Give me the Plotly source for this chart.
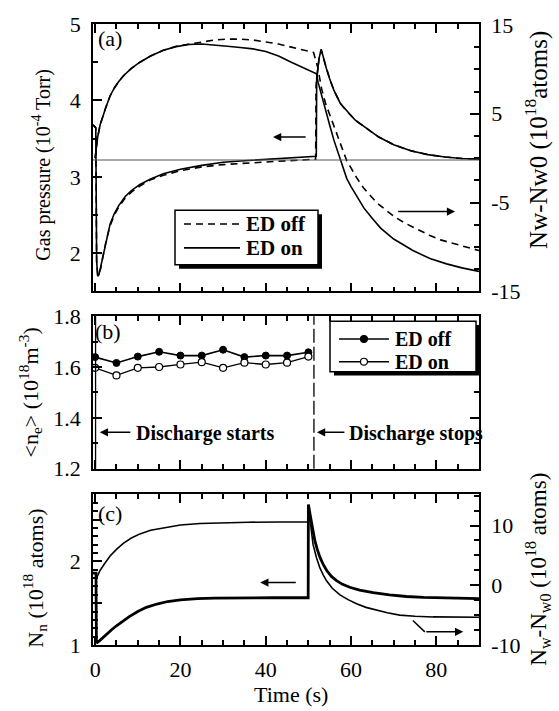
import plotly.graph_objects as go

# ---------------- data: panel (a) ----------------
t_p_on = [-0.5, 0.15, 0.35, 0.6, 0.9, 1.3, 1.8, 2.5, 3.5, 4.5, 5.5, 7, 8.5, 10.5, 13, 16, 20, 25, 30, 35, 40, 45,
          51.85, 51.95, 52.5, 53.0, 53.5, 54.2, 55, 56, 57.5, 59, 61, 63.5, 66.5, 70, 74, 78, 82, 86, 90]
p_on = [3.68, 3.64, 1.90, 1.70, 1.72, 1.82, 1.97, 2.16, 2.38, 2.52, 2.62, 2.74, 2.82, 2.90, 2.97, 3.04, 3.10, 3.15, 3.19,
        3.21, 3.23, 3.25, 3.27, 4.30, 4.55, 4.67, 4.56, 4.42, 4.28, 4.13, 3.96, 3.86, 3.74, 3.64, 3.52, 3.42, 3.34, 3.29,
        3.26, 3.24, 3.23]
t_p_off = [-0.5, 0.15, 0.35, 0.6, 0.9, 1.3, 1.8, 2.5, 3.5, 4.5, 5.5, 7, 8.5, 10.5, 13, 16, 20, 25, 30, 35, 40, 45,
           51.7, 51.8, 52.5, 53.0, 53.5, 54.2, 55, 56, 57.5, 59, 61, 63.5, 66.5, 70, 74, 78, 82, 86, 90]
p_off = [3.68, 3.64, 1.90, 1.71, 1.73, 1.80, 1.95, 2.14, 2.36, 2.50, 2.60, 2.72, 2.80, 2.88, 2.96, 3.02, 3.08, 3.13, 3.16,
         3.18, 3.20, 3.21, 3.23, 4.20, 4.55, 4.66, 4.56, 4.42, 4.28, 4.13, 3.96, 3.86, 3.74, 3.64, 3.52, 3.42, 3.34,
         3.29, 3.26, 3.24, 3.23]
p_ref = 3.22  # baseline pressure (Nw-Nw0 = 0 line)

t_nw_on = [0.0, 0.25, 0.6, 1.2, 1.8, 2.5, 3.5, 4.5, 5.5, 6.7, 8.5, 10.5, 13, 16, 19, 22, 25, 28, 31, 34, 37, 40, 43,
           46, 49, 51.9, 52.3, 53, 54, 55, 56, 57, 58.2, 59, 60, 61.5, 63, 65, 67, 70, 74.5, 78.5, 82.4, 86, 90]
nw_on = [0.0, 1.2, 2.4, 3.8, 4.8, 5.7, 7.0, 7.9, 8.6, 9.3, 10.1, 10.8, 11.5, 12.15, 12.55, 12.8, 12.85, 12.75, 12.6,
         12.45, 12.3, 12.0, 11.5, 10.8, 10.1, 9.5, 8.5, 7.2, 5.5, 3.7, 2.0, 0.5, -1.3, -2.3, -3.2, -4.4, -5.6, -6.8,
         -7.9, -9.1, -10.4, -11.3, -11.9, -12.35, -12.75]
t_nw_off = [0.0, 0.25, 0.6, 1.2, 1.8, 2.5, 3.5, 4.5, 5.5, 6.7, 8.5, 10.5, 13, 16, 19, 22, 25, 28, 31, 34, 37, 40, 43,
            46, 49, 51.2, 52.2, 53.1, 54, 55, 56, 57, 58.1, 59, 60, 61.3, 63, 64.4, 66, 68.3, 70.5, 73, 75.5, 78.5,
            81, 84, 87, 90]
nw_off = [0.0, 1.2, 2.4, 3.8, 4.8, 5.7, 7.0, 7.9, 8.6, 9.3, 10.1, 10.8, 11.5, 12.15, 12.6, 12.85, 13.1, 13.3, 13.4,
          13.4, 13.3, 13.1, 12.85, 12.5, 12.2, 11.9, 10.2, 7.8, 6.2, 4.9, 3.6, 2.4, 0.8, -0.3, -1.1, -2.2, -3.4, -4.1,
          -5.0, -5.9, -6.7, -7.4, -8.0, -8.7, -9.2, -9.6, -10.0, -10.4]

# ---------------- data: panel (b) ----------------
t_ne = [0, 5, 10, 15, 20, 25, 30, 35, 40, 45, 50]
ne_off = [1.639, 1.616, 1.641, 1.660, 1.645, 1.645, 1.668, 1.639, 1.645, 1.645, 1.658]
ne_on = [1.597, 1.567, 1.597, 1.600, 1.610, 1.619, 1.597, 1.617, 1.610, 1.617, 1.641]
t_start = 0.1
t_stop = 51.3

# ---------------- data: panel (c) ----------------
t_nn = [-0.5, 0.2, 0.3, 0.5, 1.0, 1.8, 2.7, 3.8, 5.0, 6.5, 8.0, 10.0, 12.0, 14.5, 17.0, 20.0, 24.0, 28.0, 35.0, 42.0,
        49.95, 50.0, 50.4, 50.9, 51.5, 52.1, 52.7, 53.5, 54.3, 55.4, 56.6, 58, 59.7, 62, 65.2, 69, 73, 77, 80.8, 85, 90]
nn = [1.86, 1.86, 1.04, 1.03, 1.05, 1.09, 1.13, 1.18, 1.23, 1.29, 1.34, 1.40, 1.45, 1.49, 1.52, 1.54, 1.555, 1.56,
      1.565, 1.565, 1.565, 2.68, 2.56, 2.40, 2.25, 2.14, 2.05, 1.96, 1.89, 1.82, 1.77, 1.725, 1.69, 1.655, 1.625, 1.60,
      1.58, 1.57, 1.565, 1.56, 1.555]
t_nwc = [0.2, 1.1, 2.2, 3.5, 5.0, 6.6, 8.5, 10.5, 13, 16.8, 20, 24.6, 30, 36, 43, 49.95, 50.0, 50.4, 51.1, 51.9, 52.7,
         53.5, 54.3, 55.6, 57.4, 59.3, 61.3, 63.5, 66, 68.5, 71.4, 75, 79.2, 84, 90]
nwc = [1.0, 2.4, 3.6, 4.9, 6.0, 7.0, 7.9, 8.6, 9.2, 9.75, 10.1, 10.35, 10.5, 10.55, 10.6, 10.6, 13.2, 10.7, 6.8, 4.6,
       2.9, 1.7, 0.7, -0.5, -1.6, -2.4, -3.1, -3.7, -4.2, -4.6, -5.0, -5.2, -5.3, -5.35, -5.35]

# ---------------- layout helpers ----------------
W, H = 559, 711
ML, MR, MT, MB = 93, 80, 18, 66
PW, PH = W - ML - MR, H - MT - MB


def X(px):
    return (px - ML) / PW


def Y(py):
    return (H - MB - py) / PH


SERIF = "Liberation Serif"
TICKFONT = dict(family=SERIF, size=22, color="black")
LW = 1.6
TW = 1.6

fig = go.Figure()

# panel (a)
fig.add_trace(go.Scatter(x=t_p_off, y=p_off, mode="lines", line=dict(color="black", width=LW, dash="7px,5px"),
                         xaxis="x", yaxis="y", showlegend=False))
fig.add_trace(go.Scatter(x=t_p_on, y=p_on, mode="lines", line=dict(color="black", width=LW),
                         xaxis="x", yaxis="y", showlegend=False))
fig.add_trace(go.Scatter(x=t_nw_off, y=nw_off, mode="lines", line=dict(color="black", width=LW, dash="7px,5px"),
                         xaxis="x", yaxis="y2", showlegend=False))
fig.add_trace(go.Scatter(x=t_nw_on, y=nw_on, mode="lines", line=dict(color="black", width=LW),
                         xaxis="x", yaxis="y2", showlegend=False))

# panel (b)
fig.add_trace(go.Scatter(x=t_ne, y=ne_off, mode="lines+markers", line=dict(color="black", width=1.6),
                         marker=dict(symbol="circle", size=7, color="black", line=dict(color="black", width=1)),
                         xaxis="x2", yaxis="y3", showlegend=False))
fig.add_trace(go.Scatter(x=t_ne, y=ne_on, mode="lines+markers", line=dict(color="black", width=1.3),
                         marker=dict(symbol="circle", size=7, color="white", line=dict(color="black", width=1.2)),
                         xaxis="x2", yaxis="y3", showlegend=False))

# panel (c)
fig.add_trace(go.Scatter(x=t_nn, y=nn, mode="lines", line=dict(color="black", width=2.8),
                         xaxis="x3", yaxis="y4", showlegend=False))
fig.add_trace(go.Scatter(x=t_nwc, y=nwc, mode="lines", line=dict(color="black", width=LW),
                         xaxis="x3", yaxis="y5", showlegend=False))


def xax(anchor, labels):
    return dict(domain=[0, 1], anchor=anchor, range=[-0.5, 90], showline=True, linecolor="black", linewidth=1.5,
                mirror="ticks", ticks="inside", ticklen=9, tickwidth=TW, tickcolor="black", tickmode="linear",
                tick0=0, dtick=20, showticklabels=labels, tickfont=TICKFONT, ticklabelstandoff=4, showgrid=False,
                zeroline=False,
                minor=dict(ticks="inside", ticklen=5, tickmode="linear", dtick=5, tick0=0, tickcolor="black",
                           tickwidth=TW, showgrid=False))


def yax(domain, rng, vals, texts, minor_dtick, side="left", overlay=None, mirror=False, anchor="x"):
    d = dict(domain=domain, range=rng, anchor=anchor, side=side, showline=True, linecolor="black", linewidth=1.5,
             mirror=mirror, ticks="inside", ticklen=9, tickwidth=TW, tickcolor="black", tickmode="array",
             tickvals=vals, ticktext=texts, tickfont=TICKFONT, ticklabelstandoff=6, showgrid=False, zeroline=False,
             minor=dict(ticks="inside", ticklen=5, tickmode="linear", tick0=0, dtick=minor_dtick, tickcolor="black",
                        tickwidth=TW, showgrid=False))
    if overlay:
        d["overlaying"] = overlay
    return d


dom_a = [Y(288), 1]
dom_b = [Y(467), Y(313)]
dom_c = [0, Y(493)]

fig.update_layout(
    width=W, height=H, margin=dict(l=ML, r=MR, t=MT, b=MB),
    paper_bgcolor="white", plot_bgcolor="white", showlegend=False,
    font=dict(family=SERIF, color="black"),
    xaxis=xax("y", False),
    xaxis2=xax("y3", False),
    xaxis3=xax("y4", True),
    yaxis=yax(dom_a, [1.5, 5.0], [2, 3, 4, 5], ["2", "3", "4", "5"], 0.5),
    yaxis2=yax(dom_a, [-15, 15.1], [-15, -5, 5, 15], ["-15", "-5", "5", "15"], 2.5, side="right", overlay="y"),
    yaxis3=yax(dom_b, [1.2, 1.8], [1.2, 1.4, 1.6, 1.8], ["1.2", "1.4", "1.6", "1.8"], 0.1, mirror="ticks",
               anchor="x2"),
    yaxis4=yax(dom_c, [1.0, 2.8], [1, 1.5, 2, 2.5], ["1", "", "2", ""], 0.1, anchor="x3"),
    yaxis5=yax(dom_c, [-10, 15.2], [-10, 0, 10], ["-10", "0", "10"], 2.5, side="right", overlay="y4",
               anchor="x3"),
)

shapes = []
# zero / baseline line in (a)
shapes.append(dict(type="line", xref="x domain", yref="y", x0=0, x1=1, y0=p_ref, y1=p_ref,
                   line=dict(color="#555555", width=1)))
# discharge start / stop markers in (b)
shapes.append(dict(type="line", xref="x2", yref="y3 domain", x0=t_start, x1=t_start, y0=0, y1=1,
                   line=dict(color="black", width=1.3)))
shapes.append(dict(type="line", xref="x2", yref="y3 domain", x0=t_stop, x1=t_stop, y0=0, y1=1,
                   line=dict(color="black", width=1.3, dash="14px,4px")))


def box(x0, y0, x1, y1):
    # shadow then box (pixel coordinates)
    shapes.append(dict(type="rect", xref="paper", yref="paper", x0=X(x0 + 4), x1=X(x1 + 4), y0=Y(y1 + 4),
                       y1=Y(y0 + 4), fillcolor="black", line=dict(width=0), layer="above"))
    shapes.append(dict(type="rect", xref="paper", yref="paper", x0=X(x0), x1=X(x1), y0=Y(y1), y1=Y(y0),
                       fillcolor="white", line=dict(color="black", width=1.5), layer="above"))


def hseg(x0, x1, y, dash=None, width=1.6):
    ln = dict(color="black", width=width)
    if dash:
        ln["dash"] = dash
    shapes.append(dict(type="line", xref="paper", yref="paper", x0=X(x0), x1=X(x1), y0=Y(y), y1=Y(y), line=ln,
                       layer="above"))


# legend (a)
box(175, 206, 318, 261)
hseg(184, 240, 220, dash="7px,5px")
hseg(184, 240, 244)
# legend (b)
box(330, 318, 476, 369)
hseg(339, 389, 336)
hseg(339, 389, 359, width=1.3)
for yy, fill in ((336, "black"), (359, "white")):
    shapes.append(dict(type="circle", xref="paper", yref="paper", x0=X(360.5), x1=X(367.5), y0=Y(yy + 3.5),
                       y1=Y(yy - 3.5), fillcolor=fill, line=dict(color="black", width=1.2), layer="above"))

# (c) bent arrow segment
shapes.append(dict(type="line", xref="x3", yref="y5", x0=74.5, y0=-5.9, x1=77.3, y1=-7.8,
                   line=dict(color="black", width=1.5)))

fig.update_layout(shapes=shapes)

ann = []


def text(px, py, s, size=20, angle=0, xanchor="center", bold=False):
    ann.append(dict(xref="paper", yref="paper", x=X(px), y=Y(py), text=("<b>%s</b>" % s) if bold else s,
                    showarrow=False, textangle=angle, xanchor=xanchor, yanchor="middle",
                    font=dict(family=SERIF, size=size, color="black")))


def arrow(xr, yr, x_head, y_head, x_tail, y_tail):
    ann.append(dict(xref=xr, yref=yr, axref=xr, ayref=yr, x=x_head, y=y_head, ax=x_tail, ay=y_tail, text="",
                    showarrow=True, arrowhead=2, arrowsize=1.1, arrowwidth=1.5, arrowcolor="black"))


# axis titles
text(42, 160, "Gas pressure (10<sup>-4</sup> Torr)", size=20, angle=-90)
text(537, 135, "Nw-Nw0 (10<sup>18</sup>atoms)", size=25, angle=-90)
text(30, 390, "&lt;n<sub>e</sub>&gt; (10<sup>18</sup>m<sup>-3</sup>)", size=22, angle=-90)
text(35, 578, "N<sub>n</sub> (10<sup>18</sup> atoms)", size=22, angle=-90)
text(538, 569, "N<sub>w</sub>-N<sub>w0</sub> (10<sup>18</sup> atoms)", size=23, angle=-90)
text(291, 695, "Time (s)", size=22)

# panel labels
text(110, 33, "(a)", size=22)
text(108, 328, "(b)", size=22)
text(110, 512, "(c)", size=22)

# legends text
text(244, 220, "ED off", size=21, xanchor="left", bold=True)
text(244, 244, "ED on", size=21, xanchor="left", bold=True)
text(393, 336, "ED off", size=20, xanchor="left", bold=True)
text(393, 359, "ED on", size=20, xanchor="left", bold=True)

# (b) discharge annotations
arrow("x2", "y3", 1.1, 1.343, 8.6, 1.343)
text(134, 431, "Discharge starts", size=20, xanchor="left", bold=True)
arrow("x2", "y3", 52.0, 1.343, 58.8, 1.343)
text(347, 431, "Discharge stops", size=20, xanchor="left", bold=True)

# (a) axis arrows
arrow("x", "y", 41.7, 3.52, 49.7, 3.52)
arrow("x", "y", 84.4, 2.546, 70.7, 2.546)
# (c) axis arrows
arrow("x3", "y4", 38.7, 1.746, 47.4, 1.746)
arrow("x3", "y5", 86.3, -7.8, 77.3, -7.8)

fig.update_layout(annotations=ann)

fig.write_html("out.html")
